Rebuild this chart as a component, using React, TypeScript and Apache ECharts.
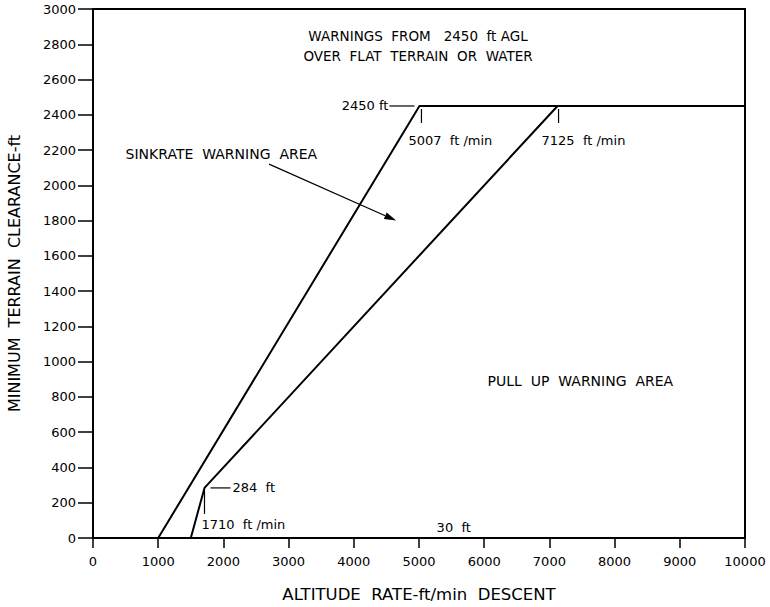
import React, { useEffect, useRef } from "react";
import * as echarts from "echarts";

const xTicks = [0, 1000, 2000, 3000, 4000, 5000, 6000, 7000, 8000, 9000, 10000];
const yTicks = [0, 200, 400, 600, 800, 1000, 1200, 1400, 1600, 1800, 2000, 2200, 2400, 2600, 2800, 3000];
const sinkrateLine: [number, number][] = [[1000, 0], [5007, 2450], [10000, 2450]];
const pullUpLine: [number, number][] = [[1500, 0], [1710, 284], [7125, 2450]];
const floorLine: [number, number][] = [[0, 0], [10000, 0]];
const titleLines = ["WARNINGS  FROM   2450  ft AGL", "OVER  FLAT  TERRAIN  OR  WATER"];
const FONT = "DejaVu Sans, Liberation Sans, sans-serif";

export default function App() {
  const ref = useRef<HTMLDivElement>(null);
  useEffect(() => {
    if (!ref.current) return;
    const chart = echarts.init(ref.current, null, { renderer: "svg" });
    const txt = { color: "#000", fontSize: 13, fontFamily: FONT };
    chart.setOption({
      animation: false,
      backgroundColor: "#fff",
      grid: {
        left: 93, right: 25, top: 9, bottom: 69, show: true, borderColor: "#000", borderWidth: 2,
        containLabel: false, outerBoundsMode: "none",
      },
      xAxis: {
        type: "value", min: xTicks[0], max: xTicks[xTicks.length - 1], interval: 1000,
        name: "ALTITUDE  RATE-ft/min  DESCENT", nameLocation: "middle", nameGap: 48,
        nameTextStyle: { ...txt, fontSize: 16.5 },
        axisLine: { show: true, lineStyle: { color: "#000", width: 2 } },
        axisTick: { show: true, length: 10, lineStyle: { color: "#000", width: 1.5 } },
        axisLabel: { ...txt, margin: 17, formatter: (v: number) => String(v) },
        splitLine: { show: false },
      },
      yAxis: {
        type: "value", min: yTicks[0], max: yTicks[yTicks.length - 1], interval: 200,
        name: "MINIMUM  TERRAIN  CLEARANCE-ft", nameLocation: "middle", nameGap: 71,
        nameTextStyle: { ...txt, fontSize: 16 },
        axisLine: { show: true, lineStyle: { color: "#000", width: 2 } },
        axisTick: { show: true, length: 15, lineStyle: { color: "#000", width: 1.5 } },
        axisLabel: { ...txt, margin: 17, formatter: (v: number) => String(v) },
        splitLine: { show: false },
      },
      series: [
        { type: "line", data: sinkrateLine, symbol: "none", lineStyle: { color: "#000", width: 2 } },
        { type: "line", data: pullUpLine, symbol: "none", lineStyle: { color: "#000", width: 2 } },
        { type: "line", data: floorLine, symbol: "none", lineStyle: { color: "#000", width: 2 } },
      ],
    });

    const P = (x: number, y: number) => chart.convertToPixel({ gridIndex: 0 }, [x, y]) as number[];
    const ls = { stroke: "#000", lineWidth: 1.2 };
    const big = { ...txt, fontSize: 14, fill: "#000" };
    const mid = { ...txt, fontSize: 13.5, fill: "#000" };
    const sm = { ...txt, fill: "#000" };
    const s5007 = P(sinkrateLine[1][0], sinkrateLine[1][1]);
    const p7125 = P(pullUpLine[2][0], pullUpLine[2][1]);
    const p1710 = P(pullUpLine[1][0], pullUpLine[1][1]);
    const center = P(5000, 0)[0] - 1;
    const top = P(0, 3000)[1];
    const t1 = top + 27;
    const t2 = top + 47;
    const elements: any[] = [
      { type: "text", x: center, y: t1, style: { ...mid, text: titleLines[0], align: "center", verticalAlign: "middle" } },
      { type: "text", x: center, y: t2, style: { ...mid, text: titleLines[1], align: "center", verticalAlign: "middle" } },
      // 2450 ft label
      { type: "line", shape: { x1: s5007[0] - 30, y1: s5007[1], x2: s5007[0] - 5, y2: s5007[1] }, style: ls },
      { type: "text", x: s5007[0] - 31, y: s5007[1], style: { ...sm, text: "2450 ft", align: "right", verticalAlign: "middle" } },
      { type: "line", shape: { x1: s5007[0] + 2, y1: s5007[1] + 3, x2: s5007[0] + 2, y2: s5007[1] + 17 }, style: ls },
      { type: "text", x: s5007[0] - 11, y: s5007[1] + 35, style: { ...sm, text: "5007  ft /min", align: "left", verticalAlign: "middle" } },
      { type: "line", shape: { x1: p7125[0] + 1, y1: p7125[1] + 3, x2: p7125[0] + 1, y2: p7125[1] + 17 }, style: ls },
      { type: "text", x: p7125[0] - 16, y: p7125[1] + 35, style: { ...sm, text: "7125  ft /min", align: "left", verticalAlign: "middle" } },
      // 284 ft
      { type: "line", shape: { x1: p1710[0] + 6, y1: p1710[1], x2: p1710[0] + 26, y2: p1710[1] }, style: ls },
      { type: "text", x: p1710[0] + 28, y: p1710[1], style: { ...sm, text: "284  ft", align: "left", verticalAlign: "middle" } },
      { type: "line", shape: { x1: p1710[0], y1: p1710[1] + 2, x2: p1710[0], y2: p1710[1] + 26 }, style: ls },
      { type: "text", x: p1710[0] - 3, y: p1710[1] + 37, style: { ...sm, text: "1710  ft /min", align: "left", verticalAlign: "middle" } },
      // 30 ft
      { type: "text", x: P(5270, 0)[0], y: P(0, 0)[1] - 11, style: { ...sm, text: "30  ft", align: "left", verticalAlign: "middle" } },
      // area labels
      { type: "text", x: P(500, 0)[0], y: P(0, 2175)[1], style: { ...big, text: "SINKRATE  WARNING  AREA", align: "left", verticalAlign: "middle" } },
      { type: "text", x: P(6050, 0)[0], y: P(0, 890)[1], style: { ...big, text: "PULL  UP  WARNING  AREA", align: "left", verticalAlign: "middle" } },
    ];
    // arrow
    const a0 = P(2700, 2120);
    const a1 = P(4650, 1800);
    const ang = Math.atan2(a1[1] - a0[1], a1[0] - a0[0]);
    const hl = 12, hw = 3.5;
    const bx = a1[0] - hl * Math.cos(ang), by = a1[1] - hl * Math.sin(ang);
    elements.push({ type: "line", shape: { x1: a0[0], y1: a0[1], x2: bx, y2: by }, style: ls });
    elements.push({
      type: "polygon",
      shape: { points: [[a1[0], a1[1]], [bx - hw * Math.sin(ang), by + hw * Math.cos(ang)], [bx + hw * Math.sin(ang), by - hw * Math.cos(ang)]] },
      style: { fill: "#000" },
    });
    chart.setOption({ graphic: { elements } });
    return () => chart.dispose();
  }, []);
  return <div ref={ref} style={{ position: "fixed", left: 0, top: 0, width: 770, height: 607 }} />;
}
